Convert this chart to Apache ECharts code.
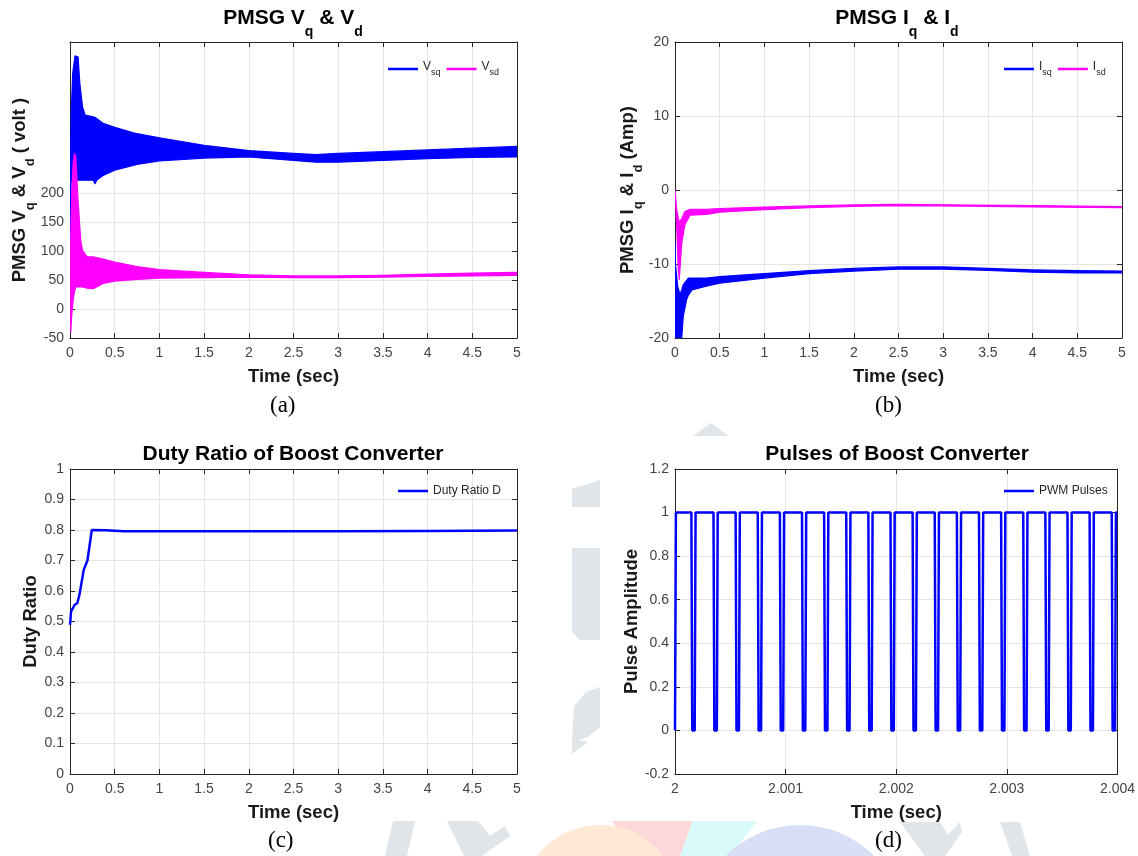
<!DOCTYPE html>
<html>
<head>
<meta charset="utf-8">
<style>
  html, body { margin: 0; padding: 0; background: #fff; }
  #chart { width: 1138px; height: 856px; }
</style>
<script src="https://cdn.jsdelivr.net/npm/echarts@6/dist/echarts.min.js"></script>
</head>
<body>
<div id="chart"></div>
<script>
// (a) PMSG Vsq / Vsd: envelope of the oscillating band, rows [time s, upper, lower] in volt
var vsqEnv = [
  [0, 160, 40], [0.012, 330, 219], [0.03, 406, 219], [0.056, 436, 220], [0.09, 434, 222],
  [0.11, 389, 222], [0.14, 348, 222], [0.17, 334, 222], [0.26, 331, 222], [0.28, 330, 216],
  [0.3, 328, 222], [0.37, 320, 230], [0.5, 313, 239], [0.75, 302, 249], [1.0, 295, 255],
  [1.5, 282, 260], [2.0, 273, 262], [2.5, 268, 256], [2.75, 266, 253], [3.0, 268, 253],
  [3.5, 271, 256], [4.0, 274, 259], [4.5, 277, 261], [5.0, 280, 262]
];
var vsdEnv = [
  [0, 40, 0], [0.008, 120, -40], [0.02, 200, -10], [0.035, 250, 15], [0.05, 268, 30],
  [0.065, 262, 38], [0.09, 187, 38], [0.12, 118, 38], [0.14, 101, 38], [0.19, 90, 36],
  [0.26, 90, 35], [0.37, 86, 44], [0.5, 81, 48], [0.75, 73, 51], [1.0, 68, 53],
  [1.5, 63, 54], [2.0, 59, 55], [2.5, 57, 54], [3.0, 57, 54], [3.5, 58, 55],
  [4.0, 60, 56], [4.5, 62, 57], [5.0, 63, 58]
];
var vTicks = [-50, 0, 50, 100, 150, 200];

// (b) PMSG Isq / Isd envelopes, rows [time s, upper, lower] in amp
var isqEnv = [
  [0, -7, -7], [0.005, -10, -20], [0.03, -13, -20], [0.056, -14.1, -20], [0.075, -13.5, -20],
  [0.093, -12.8, -17], [0.13, -12.2, -14.8], [0.15, -11.9, -14.2], [0.19, -11.9, -13.5],
  [0.35, -11.9, -13.0], [0.5, -11.7, -12.6], [1.0, -11.3, -11.9], [1.5, -10.9, -11.3],
  [2.0, -10.6, -10.95], [2.5, -10.4, -10.7], [3.0, -10.4, -10.7], [3.5, -10.6, -10.85],
  [4.0, -10.8, -11.1], [4.5, -10.9, -11.2], [5.0, -10.95, -11.2]
];
var isdEnv = [
  [0, 0, 0], [0.019, -2.7, -4.9], [0.037, -3.8, -10.8], [0.048, -4.3, -12.1], [0.075, -3.9, -7.2],
  [0.11, -2.9, -4.7], [0.168, -2.6, -3.4], [0.35, -2.6, -3.3], [0.5, -2.5, -3.0],
  [1.0, -2.3, -2.65], [1.5, -2.15, -2.4], [2.0, -2.0, -2.2], [2.5, -1.95, -2.1],
  [3.0, -2.0, -2.15], [4.0, -2.1, -2.3], [5.0, -2.25, -2.4]
];

// (c) duty ratio D, [time s, D]
var dutyRatio = [
  [0, 0.489], [0.012, 0.533], [0.053, 0.555], [0.081, 0.56], [0.106, 0.588], [0.154, 0.67],
  [0.195, 0.70], [0.244, 0.80], [0.4, 0.799], [0.6, 0.796], [1, 0.796], [2, 0.796],
  [3, 0.796], [4, 0.797], [5, 0.798]
];

// (d) PWM pulses: times the pulse reaches 0 and times it leaves 0
var pwmFall = [2.000156, 2.000356, 2.000556, 2.000756, 2.000956, 2.001156, 2.001356, 2.001556,
  2.001756, 2.001956, 2.002156, 2.002356, 2.002556, 2.002756, 2.002956, 2.003156, 2.003356,
  2.003556, 2.003756, 2.003956];
var pwmRise = [2.0, 2.000178, 2.000378, 2.000578, 2.000778, 2.000978, 2.001178, 2.001378,
  2.001578, 2.001778, 2.001978, 2.002178, 2.002378, 2.002578, 2.002778, 2.002978, 2.003178,
  2.003378, 2.003578, 2.003778, 2.003978];
var pwmEdge = 0.000008;
var pwmEnd = 2.004;

// step trace built from the edge lists
var pwmData = [];
pwmRise.forEach(function (r, i) {
  pwmData.push([r, 0], [r + pwmEdge, 1]);
  if (i < pwmFall.length) pwmData.push([pwmFall[i] - pwmEdge, 1], [pwmFall[i], 0]);
});
pwmData.push([pwmEnd, 1]);

var FONT = "'Liberation Sans', Arial, Helvetica, sans-serif";
var AX = "#262626", LB = "#444", GRID = "#e4e4e4";
var BLUE = "#0000ff", MAG = "#ff00ff";

var chart = echarts.init(document.getElementById("chart"), null, { renderer: "canvas" });

// grids: [left, top, width, height]
var G = [[70, 42, 447, 296], [675, 42, 447, 296], [70, 469, 447, 305], [675, 469, 447, 305]];

function num(d) { return function (v) { return String(+v.toFixed(d)); }; }

var nameStyle = {
  color: "#1a1a1a", fontSize: 18.5, fontWeight: "bold", fontFamily: FONT,
  rich: {
    m: { fontSize: 18.5, fontWeight: "bold", fontFamily: FONT, color: "#1a1a1a", verticalAlign: "top", lineHeight: 20 },
    s: { fontSize: 13, fontWeight: "bold", fontFamily: FONT, color: "#1a1a1a", verticalAlign: "bottom", lineHeight: 26 }
  }
};

function xPair(gi, min, max, step, fmt) {
  var line = { onZero: false, lineStyle: { color: AX, width: 1 } };
  var tick = { inside: true, length: 5, lineStyle: { color: AX } };
  return [
    { type: "value", gridIndex: gi, min: min, max: max, interval: step, position: "bottom",
      name: "Time (sec)", nameLocation: "middle", nameGap: 29, nameTextStyle: nameStyle,
      axisLine: line, axisTick: tick,
      axisLabel: { color: LB, fontSize: 14, fontFamily: FONT, margin: 8, formatter: fmt, showMinLabel: true, showMaxLabel: true },
      splitLine: { show: true, lineStyle: { color: GRID } } },
    { type: "value", gridIndex: gi, min: min, max: max, interval: step, position: "top",
      axisLine: line, axisTick: tick, axisLabel: { show: false }, splitLine: { show: false } }
  ];
}

function yPair(gi, min, max, step, fmt, name, gap, custom) {
  var line = { onZero: false, lineStyle: { color: AX, width: 1 } };
  var tick = { inside: true, length: 5, lineStyle: { color: AX } };
  if (custom) tick.customValues = custom;
  var lab = { color: LB, fontSize: 14, fontFamily: FONT, margin: 6, formatter: fmt, showMinLabel: true, showMaxLabel: true };
  if (custom) lab.customValues = custom;
  return [
    { type: "value", gridIndex: gi, min: min, max: max, interval: step, position: "left",
      name: name, nameLocation: "middle", nameRotate: 90, nameGap: gap, nameTextStyle: nameStyle,
      axisLine: line, axisTick: tick, axisLabel: lab,
      splitLine: { show: true, lineStyle: { color: GRID } } },
    { type: "value", gridIndex: gi, min: min, max: max, interval: step, position: "right",
      axisLine: line, axisTick: tick, axisLabel: { show: false }, splitLine: { show: false } }
  ];
}

// band between upper and lower envelope, drawn as one polygon through the axis scales
function band(name, env, color, xi, yi) {
  return {
    type: "custom", name: name, xAxisIndex: xi, yAxisIndex: yi, data: env, clip: true,
    encode: { x: 0, y: [1, 2] }, itemStyle: { color: color },
    renderItem: function (params, api) {
      if (params.dataIndex !== 0) return null;
      var pts = [];
      var i;
      for (i = 0; i < env.length; i++) pts.push(api.coord([env[i][0], env[i][1]]));
      for (i = env.length - 1; i >= 0; i--) pts.push(api.coord([env[i][0], env[i][2]]));
      return { type: "polygon", shape: { points: pts },
        style: { fill: color, stroke: color, lineWidth: 1.2, lineJoin: "round" } };
    }
  };
}

var legendRich = {
  m: { fontSize: 12, fontFamily: FONT, color: "#262626", verticalAlign: "top", lineHeight: 13 },
  s: { fontSize: 9, fontFamily: FONT, color: "#262626", verticalAlign: "bottom", lineHeight: 16 }
};
var legendText = { Vsq: "{m|V}{s|sq}", Vsd: "{m|V}{s|sd}", Isq: "{m|I}{s|sq}", Isd: "{m|I}{s|sd}" };
function legend(left, top, names) {
  return {
    left: left, top: top, data: names, orient: "horizontal", icon: "rect",
    itemWidth: 30, itemHeight: 2.5, itemGap: 6, padding: 0,
    textStyle: { fontSize: 12, fontFamily: FONT, color: "#262626", rich: legendRich },
    formatter: function (n) { return legendText[n] || n; }
  };
}

var titleRich = {
  m: { fontSize: 21, fontWeight: "bold", fontFamily: FONT, color: "#000", verticalAlign: "top", lineHeight: 22 },
  s: { fontSize: 14, fontWeight: "bold", fontFamily: FONT, color: "#000", verticalAlign: "bottom", lineHeight: 31 }
};
function title(text, cx, top) {
  return { text: text, left: cx, top: top, textAlign: "center", padding: 0,
    textStyle: { fontSize: 21, fontWeight: "bold", fontFamily: FONT, color: "#000", rich: titleRich } };
}

var xs = [].concat(
  xPair(0, 0, 5, 0.5, num(1)), xPair(1, 0, 5, 0.5, num(1)),
  xPair(2, 0, 5, 0.5, num(1)), xPair(3, 2, 2.004, 0.001, num(3))
);
var ys = [].concat(
  yPair(0, -50, 460, 50, num(0), "{m|PMSG V}{s|q}{m| & V}{s|d}{m| ( volt )}", 33, vTicks),
  yPair(1, -20, 20, 10, num(0), "{m|PMSG I}{s|q}{m| & I}{s|d}{m| (Amp)}", 30),
  yPair(2, 0, 1, 0.1, num(1), "Duty Ratio", 30),
  yPair(3, -0.2, 1.2, 0.2, num(1), "Pulse Amplitude", 34)
);

var panelLabel = function (t, x, y) {
  return { type: "text", left: x, top: y,
    style: { text: t, font: "23px 'Liberation Serif', 'Times New Roman', serif", fill: "#000" } };
};

// faint publisher watermark showing in the gaps between the four sub-figures
function wm(points, color) {
  return { type: "polygon", z: -10, silent: true, shape: { points: points }, style: { fill: color } };
}
function wmCircle(cx, cy, r, color) {
  return { type: "circle", z: -10, silent: true, shape: { cx: cx, cy: cy, r: r }, style: { fill: color } };
}
var WG = "#dfe5e8";
var watermark = [
  wm([[693, 436], [711, 423], [728, 436]], WG),
  wm([[572, 489], [600, 480], [600, 507], [572, 507]], WG),
  wm([[572, 548], [600, 548], [600, 640], [580, 640], [572, 632]], WG),
  wm([[600, 687], [586, 692], [574, 706], [572, 742], [588, 737], [600, 727]], WG),
  wm([[572, 738], [588, 742], [572, 754]], WG),
  wm([[393, 821], [415, 821], [407, 856], [385, 856]], WG),
  wm([[447, 821], [478, 821], [490, 836], [505, 826], [510, 836], [482, 856], [464, 856]], WG),
  wm([[612, 821], [693, 821], [680, 856], [637, 856]], "#fdd8d8"),
  wmCircle(600, 905, 80, "#fde9d6"),
  wm([[693, 821], [757, 821], [730, 856], [680, 856]], "#d8fafa"),
  wmCircle(800, 930, 105, "#d8def5"),
  wm([[900, 822], [940, 822], [948, 835], [960, 822], [962, 832], [945, 856], [925, 856]], WG),
  wm([[1000, 822], [1020, 822], [1030, 856], [1012, 856]], WG)
];

chart.setOption({
  animation: false,
  backgroundColor: "#fff",
  title: [
    title("{m|PMSG V}{s|q}{m| & V}{s|d}", 293, 8),
    title("{m|PMSG I}{s|q}{m| & I}{s|d}", 897, 8),
    title("Duty Ratio of Boost Converter", 293, 444),
    title("Pulses of Boost Converter", 897, 444)
  ],
  legend: [
    legend(388, 61, ["Vsq", "Vsd"]),
    legend(1004, 61, ["Isq", "Isd"]),
    legend(398, 485, ["Duty Ratio D"]),
    legend(1004, 485, ["PWM Pulses"])
  ],
  grid: G.map(function (g) {
    return { left: g[0], top: g[1], width: g[2], height: g[3], show: false };
  }),
  xAxis: xs,
  yAxis: ys,
  graphic: watermark.concat([
    panelLabel("(a)", 270, 394), panelLabel("(b)", 875, 394),
    panelLabel("(c)", 268, 829), panelLabel("(d)", 875, 829)
  ]),
  series: [
    band("Vsq", vsqEnv, BLUE, 0, 0),
    band("Vsd", vsdEnv, MAG, 0, 0),
    band("Isq", isqEnv, BLUE, 2, 2),
    band("Isd", isdEnv, MAG, 2, 2),
    { type: "line", name: "Duty Ratio D", xAxisIndex: 4, yAxisIndex: 4, data: dutyRatio,
      showSymbol: false, lineStyle: { color: BLUE, width: 2.5 }, itemStyle: { color: BLUE } },
    { type: "line", name: "PWM Pulses", xAxisIndex: 6, yAxisIndex: 6, data: pwmData,
      showSymbol: false, lineStyle: { color: BLUE, width: 2.5 }, itemStyle: { color: BLUE } }
  ]
});
</script>
</body>
</html>
